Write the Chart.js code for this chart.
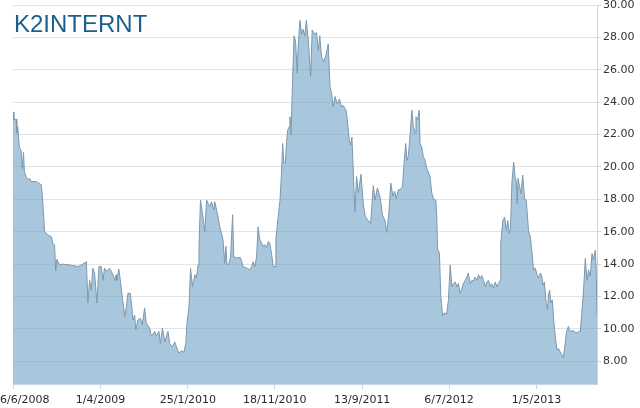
<!DOCTYPE html>
<html>
<head>
<meta charset="utf-8">
<script src="https://cdn.jsdelivr.net/npm/chart.js@4"></script>
<style>
  html, body { margin: 0; padding: 0; background: #fff; }
  #wrap { width: 640px; height: 408px; position: relative; }
</style>
</head>
<body>
<div id="wrap"><canvas id="priceChart"></canvas></div>
<script>
// days since 6/6/2008
const days = [
  0, 3, 11, 13, 16, 22, 28, 32, 36, 39, 45, 51, 57, 62, 79, 97, 102, 108, 119, 131,
  136, 142, 146, 150, 159, 171, 194, 222, 234, 251, 256, 262, 268, 273, 279, 287, 294, 302, 308, 313,
  321, 330, 342, 348, 353, 355, 362, 367, 374, 378, 382, 388, 393, 401, 406, 410, 416, 420, 427, 436,
  442, 450, 456, 467, 473, 485, 490, 499, 504, 511, 519, 530, 536, 545, 553, 559, 567, 576, 584, 591,
  595, 602, 607, 614, 622, 627, 633, 636, 641, 648, 656, 662, 667, 673, 679, 687, 690, 696, 701, 707,
  713, 718, 724, 728, 732, 739, 744, 751, 755, 764, 778, 787, 799, 810, 816, 821, 827, 833, 838, 844,
  850, 855, 861, 867, 873, 878, 884, 890, 896, 899, 907, 913, 918, 922, 926, 931, 936, 939, 945, 947,
  951, 956, 961, 966, 972, 975, 981, 987, 992, 998, 1003, 1010, 1018, 1023, 1032, 1038, 1044, 1049, 1055, 1063,
  1070, 1078, 1084, 1089, 1095, 1101, 1109, 1116, 1124, 1129, 1139, 1143, 1150, 1155, 1159, 1164, 1169, 1175, 1181, 1190,
  1198, 1204, 1210, 1215, 1223, 1232, 1238, 1246, 1255, 1264, 1272, 1278, 1285, 1292, 1299, 1305, 1310, 1318, 1324, 1332,
  1337, 1343, 1347, 1352, 1358, 1364, 1369, 1375, 1378, 1384, 1389, 1392, 1398, 1403, 1409, 1415, 1420, 1426, 1432, 1438,
  1446, 1449, 1452, 1458, 1463, 1469, 1476, 1483, 1489, 1495, 1501, 1506, 1512, 1518, 1523, 1529, 1535, 1540, 1546, 1552,
  1557, 1563, 1569, 1574, 1580, 1586, 1592, 1597, 1603, 1609, 1615, 1620, 1626, 1632, 1637, 1643, 1649, 1655, 1660, 1666,
  1668, 1675, 1681, 1687, 1692, 1697, 1701, 1706, 1712, 1717, 1721, 1724, 1727, 1732, 1737, 1743, 1749, 1755, 1758, 1763,
  1769, 1775, 1780, 1786, 1792, 1797, 1803, 1808, 1812, 1817, 1823, 1828, 1831, 1835, 1839, 1844, 1849, 1854, 1860, 1865,
  1871, 1877, 1882, 1888, 1893, 1899, 1905, 1915, 1922, 1929, 1935, 1940, 1945, 1951, 1957, 1963, 1968, 1974, 1980, 1985,
  1991, 1994, 1997
];
const prices = [
  23.4, 22.9, 22.95, 22.1, 22.5, 21.2, 21.0, 19.9, 20.9, 19.7, 19.4, 19.2, 19.3, 19.1, 19.1, 18.9, 17.8, 16.0, 15.8, 15.7,
  15.3, 15.2, 13.6, 14.3, 13.95, 14.0, 13.95, 13.85, 13.95, 14.15, 11.6, 13.0, 12.4, 13.75, 13.45, 11.6, 13.85, 13.85, 13.0, 13.75,
  13.55, 13.75, 13.35, 13.0, 13.35, 13.0, 13.7, 13.0, 11.9, 11.4, 10.75, 11.4, 12.2, 12.2, 11.4, 10.55, 10.85, 9.95, 10.55, 10.65,
  10.25, 11.3, 10.35, 10.05, 9.55, 9.85, 9.55, 9.85, 9.1, 10.05, 9.2, 9.85, 9.1, 8.9, 9.2, 8.9, 8.5, 8.65, 8.55, 9.1,
  10.35, 11.4, 13.75, 12.6, 13.35, 13.15, 13.95, 15.1, 17.95, 17.15, 16.0, 17.95, 17.75, 17.55, 17.85, 17.35, 17.85, 17.35, 16.95, 16.3,
  15.9, 15.5, 14.05, 15.1, 13.95, 14.05, 14.45, 17.05, 14.45, 14.4, 14.4, 13.85, 13.75, 13.65, 13.85, 14.15, 13.85, 14.45, 16.3, 15.5,
  15.3, 15.1, 15.2, 15.0, 15.4, 15.3, 14.65, 13.85, 13.85, 15.6, 16.95, 17.95, 19.6, 21.45, 20.3, 20.2, 21.65, 22.25, 22.5, 23.1,
  22.0, 25.4, 28.1, 27.8, 25.8, 27.4, 29.05, 28.2, 28.5, 28.1, 29.05, 27.8, 25.6, 28.45, 28.2, 28.3, 27.2, 28.1, 26.8, 26.5,
  26.9, 27.6, 24.95, 24.6, 23.7, 24.35, 23.9, 24.2, 23.7, 23.8, 23.5, 22.9, 21.65, 21.35, 21.85, 19.5, 17.25, 19.4, 18.4, 19.55,
  17.7, 17.0, 16.8, 16.7, 16.5, 18.85, 17.95, 18.7, 18.15, 17.0, 16.7, 15.95, 17.1, 19.0, 18.2, 18.5, 18.05, 18.6, 18.6, 18.8,
  20.2, 21.45, 20.4, 20.7, 22.0, 23.5, 22.5, 22.1, 23.1, 22.9, 23.5, 21.45, 21.2, 20.65, 20.4, 19.9, 19.7, 19.4, 18.4, 18.0,
  17.95, 17.0, 14.9, 14.7, 12.0, 10.8, 11.0, 10.9, 11.8, 13.95, 12.6, 12.8, 12.9, 12.6, 12.8, 12.2, 12.5, 12.8, 13.0, 13.2,
  13.45, 12.8, 13.0, 12.95, 13.2, 13.0, 13.35, 13.1, 13.3, 13.0, 12.6, 12.9, 13.0, 12.6, 12.8, 12.5, 12.9, 12.6, 12.8, 13.0,
  15.3, 16.7, 16.9, 16.1, 16.7, 15.9, 16.2, 19.0, 20.3, 19.4, 19.1, 17.75, 19.3, 18.8, 18.35, 19.5, 18.05, 17.95, 17.25, 16.0,
  15.7, 14.65, 13.65, 13.75, 13.35, 13.15, 13.45, 13.3, 12.7, 12.9, 11.6, 11.2, 12.1, 12.4, 11.6, 11.8, 10.55, 9.55, 8.7, 8.8,
  8.6, 8.4, 8.2, 9.1, 9.85, 10.15, 9.85, 9.9, 9.8, 9.75, 9.85, 9.85, 11.0, 12.4, 14.35, 13.0, 13.65, 13.25, 14.65, 14.25,
  14.85, 13.85, 10.8
];
const tickDates = ['2008-06-06', '2009-04-01', '2010-01-25', '2010-11-18', '2011-09-13', '2012-07-06', '2013-05-01'];
const tickLabels = ['6/6/2008', '1/4/2009', '25/1/2010', '18/11/2010', '13/9/2011', '6/7/2012', '1/5/2013'];
const yTicks = [8, 10, 12, 14, 16, 18, 20, 22, 24, 26, 28, 30];
const title = 'K2INTERNT';

const start = Date.UTC(2008, 5, 6);
const tickDays = tickDates.map(s => {
  const p = s.split('-').map(Number);
  return Math.round((Date.UTC(p[0], p[1] - 1, p[2]) - start) / 86400000);
});

const axisBlue = '#c6d6e6';
const labelFont = '11px "DejaVu Sans", Verdana, sans-serif';

// title and x labels (first label kept inside the canvas)
const overlay = {
  id: 'overlay',
  afterDraw(chart) {
    const ctx = chart.ctx;
    const xs = chart.scales.x;
    ctx.save();
    ctx.font = '24px "Liberation Sans", Arial, sans-serif';
    ctx.fillStyle = '#1d5f8c';
    ctx.textBaseline = 'alphabetic';
    ctx.textAlign = 'left';
    ctx.fillText(title, 14, 32);

    ctx.font = labelFont;
    ctx.fillStyle = '#2a2a2a';
    ctx.textBaseline = 'middle';
    tickDays.forEach((d, i) => {
      const px = xs.getPixelForValue(d);
      const w = ctx.measureText(tickLabels[i]).width;
      ctx.fillText(tickLabels[i], Math.max(0, px - w / 2), 400);
    });
    ctx.restore();
  }
};

new Chart(document.getElementById('priceChart'), {
  type: 'line',
  data: {
    datasets: [{
      data: days.map((d, i) => ({ x: d, y: prices[i] })),
      borderColor: '#7c97ad',
      borderWidth: 1,
      backgroundColor: 'rgba(110, 162, 197, 0.6)',
      fill: 'start',
      pointRadius: 0,
      tension: 0
    }]
  },
  options: {
    responsive: true,
    maintainAspectRatio: false,
    animation: false,
    layout: { padding: { left: 13, top: 5, right: 0, bottom: 0 } },
    plugins: {
      legend: { display: false },
      tooltip: { enabled: false }
    },
    scales: {
      x: {
        type: 'linear',
        min: 0,
        max: 1997,
        afterBuildTicks: (scale) => { scale.ticks = tickDays.map(v => ({ value: v })); },
        afterFit: (scale) => { scale.height = 24; scale.paddingLeft = 0; scale.paddingRight = 0; },
        ticks: { display: false },
        grid: { drawOnChartArea: false, drawTicks: true, tickLength: 5, tickColor: axisBlue },
        border: { color: axisBlue }
      },
      y: {
        position: 'right',
        min: 6.6,
        max: 30,
        afterBuildTicks: (scale) => { scale.ticks = yTicks.map(v => ({ value: v })); },
        afterFit: (scale) => { scale.width = 43; scale.paddingTop = 0; scale.paddingBottom = 0; },
        ticks: {
          padding: 2,
          color: '#333',
          font: { family: '"DejaVu Sans", Verdana, sans-serif', size: 11 },
          callback: (v) => Number(v).toFixed(2)
        },
        grid: { color: '#e4e4e4', tickLength: 4, tickColor: axisBlue },
        border: { color: axisBlue }
      }
    }
  },
  plugins: [overlay]
});
</script>
</body>
</html>
